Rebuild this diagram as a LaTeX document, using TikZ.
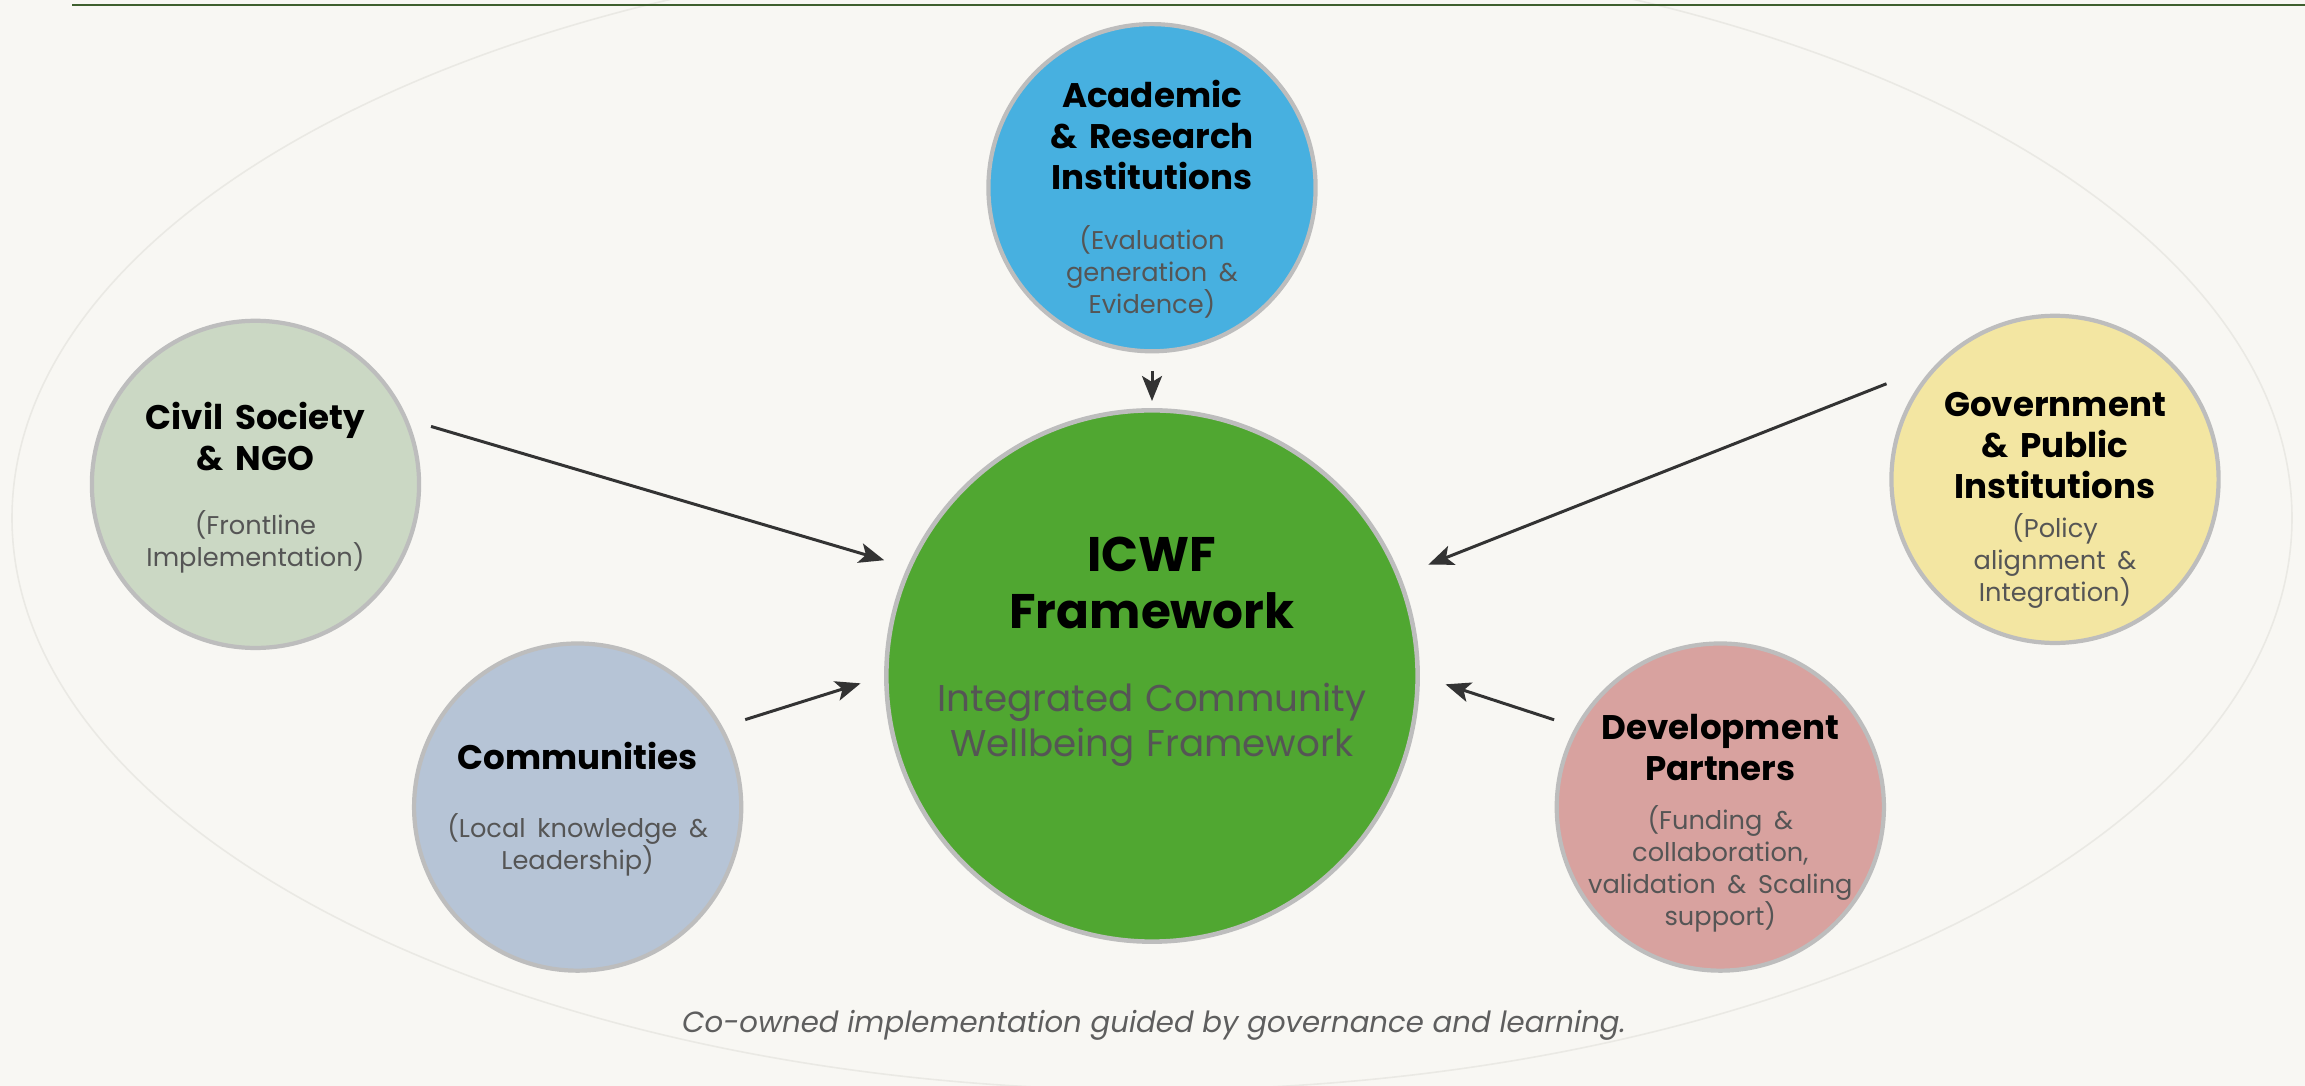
\documentclass[tikz,border=0pt]{standalone}
\usepackage{fontspec}
\setmainfont{Poppins}
\usetikzlibrary{arrows.meta, positioning, calc}

\definecolor{paper}{HTML}{F8F7F3}
\definecolor{topline}{HTML}{3E5F2E}
\definecolor{ringgray}{HTML}{EAE9E4}
\definecolor{edgegray}{HTML}{BDBDBD}
\definecolor{arrowgray}{HTML}{333333}
\definecolor{subgray}{HTML}{555555}
\definecolor{capgray}{HTML}{5E5E5E}
\definecolor{acadblue}{HTML}{47B0E0}
\definecolor{hubgreen}{HTML}{50A731}
\definecolor{civilgreen}{HTML}{CBD8C4}
\definecolor{commblue}{HTML}{B6C4D6}
\definecolor{govyellow}{HTML}{F3E6A2}
\definecolor{devrose}{HTML}{D8A29F}

\tikzstyle{stake} = [circle, draw=edgegray, line width=1.2pt, minimum size=3.27cm, inner sep=0pt]
\tikzstyle{hub} = [circle, draw=edgegray, line width=1.3pt, minimum size=5.31cm, inner sep=0pt, fill=hubgreen]
\tikzstyle{stakelabel} = [align=center, inner sep=0pt, text width=3.1cm]
\tikzstyle{hublabel} = [align=center, inner sep=0pt, text width=4.9cm]
\tikzstyle{arrow} = [line width=0.85pt, draw=arrowgray, -{Stealth[length=2.5mm, width=2mm, inset=0.6mm]}]

% title, gap, subtitle of one stakeholder
\newcommand{\stake}[3][8pt]{{\fontsize{9.7}{11.7}\selectfont\bfseries #2\par}\vspace{#1}{\fontsize{7.3}{9.1}\selectfont\color{subgray}#3\par}}

\begin{document}
\begin{tikzpicture}[x=0.01cm, y=-0.01cm]
	\useasboundingbox (0,0) rectangle (2305,1086);
	\fill[paper] (0,0) rectangle (2305,1086);
	\begin{scope}
		\clip (0,0) rectangle (2305,1086);
		\draw[ringgray, line width=0.45pt] (1152,518) ellipse [x radius=1140, y radius=572];
	\end{scope}
	\draw[topline, line width=0.6pt] (72,5) -- (2305,5);

	\node(icwf)[hub] at (1152,676) {};
	\node(acad)[stake, fill=acadblue, above of=icwf, node distance=4.88cm] {};
	\node(civil)[stake, fill=civilgreen, left of=icwf, node distance=8.96cm, yshift=1.915cm] {};
	\node(comm)[stake, fill=commblue, left of=icwf, node distance=5.74cm, yshift=-1.31cm] {};
	\node(gov)[stake, fill=govyellow, right of=icwf, node distance=9.025cm, yshift=1.965cm] {};
	\node(dev)[stake, fill=devrose, right of=icwf, node distance=5.68cm, yshift=-1.31cm] {};

	% Labels
	\node(icwf-text)[hublabel, yshift=0.24cm] at (icwf) {{\fontsize{13.8}{16.2}\selectfont\bfseries ICWF\\ Framework\par}\vspace{10.8pt}{\fontsize{10.6}{12.8}\selectfont\color{subgray}Integrated Community\\ Wellbeing Framework\par}};
	\node(acad-text)[stakelabel, yshift=-0.115cm] at (acad) {\stake[8pt]{Academic\\ \& Research\\ Institutions}{(Evaluation\\ generation \&\\ Evidence)}};
	\node(civil-text)[stakelabel, yshift=-0.035cm] at (civil) {\stake[9pt]{Civil Society\\ \& NGO}{(Frontline\\ Implementation)}};
	\node(comm-text)[stakelabel, yshift=-0.02cm] at (comm) {\stake[10.2pt]{Communities}{(Local knowledge \&\\ Leadership)}};
	\node(gov-text)[stakelabel, yshift=-0.21cm] at (gov) {\stake[2pt]{Government\\ \& Public\\ Institutions}{(Policy\\ alignment \&\\ Integration)}};
	\node(dev-text)[stakelabel, yshift=-0.165cm] at (dev) {\stake[4.8pt]{Development\\ Partners}{(Funding \&\\ collaboration,\\ validation \& Scaling\\ support)}};
	\node(caption)[capgray, inner sep=0pt, anchor=base] at (1154,1033) {\fontsize{8.3}{10}\selectfont\itshape Co-owned implementation guided by governance and learning.};

	\draw [arrow, shorten <=5, shorten >=2] (acad.-90) -- (icwf.90);
	\draw [arrow, shorten <=0.24cm, shorten >=0.24cm] (civil.23.6) -- (icwf.156.7);
	\draw [arrow, shorten <=0.237cm, shorten >=0.246cm] (comm.29.1) -- (icwf.180.4);
	\draw [arrow, shorten <=0.53cm, shorten >=0.3cm] (gov.136.9) -- (icwf.22.7);
	\draw [arrow, shorten <=0.224cm, shorten >=0.269cm] (dev.151.3) -- (icwf.0.35);
\end{tikzpicture}
\end{document}
